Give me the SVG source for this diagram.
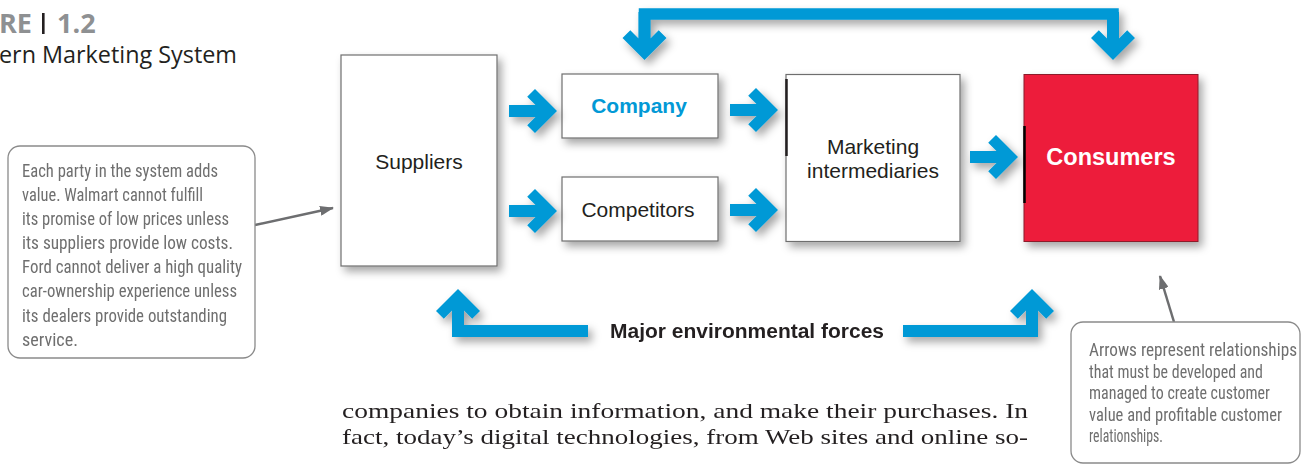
<svg xmlns="http://www.w3.org/2000/svg" width="1301" height="464" viewBox="0 0 1301 464">
<defs>
  <filter id="sh" x="-20%" y="-20%" width="150%" height="150%">
    <feDropShadow dx="4" dy="5" stdDeviation="4" flood-color="#000" flood-opacity="0.35"/>
  </filter>
  <polygon id="arr" points="0,0 -22,-22 -29.8,-14.2 -21.5,-6 -48,-6 -48,6 -21.5,6 -29.8,14.2 -22,22"/>
  <marker id="gh" viewBox="0 0 14 10" refX="13" refY="5" markerWidth="14" markerHeight="10" markerUnits="userSpaceOnUse" orient="auto">
    <path d="M0,0 L14,5 L0,10 z" fill="#6d6e70"/>
  </marker>
</defs>
<style>
  .box{fill:#fff;stroke:#6e6e6e;stroke-width:1.2}
  .lbl{font-family:"Liberation Sans",Arial,sans-serif;font-size:21px;fill:#231f20;text-anchor:middle}
  .blue{fill:#0299d6}
  .bstroke{fill:none;stroke:#0299d6;stroke-linejoin:miter}
  .call{fill:#fff;stroke:#8a8a8a;stroke-width:1.3}
  .ct{font-family:"Liberation Sans Narrow","Roboto Condensed","Liberation Sans",sans-serif;font-size:17.5px;fill:#6f6f6f}
  .body{font-family:"Liberation Serif","Times New Roman",serif;font-size:21.5px;fill:#231f20}
  .garrow{stroke:#6d6e70;stroke-width:2.5;fill:none}
</style>

<g id="title">
  <text x="-1" y="33" font-family="Open Sans, sans-serif" font-weight="bold" font-size="27" fill="#8e9092">RE</text>
  <rect x="42" y="13" width="2.6" height="21" fill="#231f20"/>
  <text x="57" y="33" font-family="Open Sans, sans-serif" font-weight="bold" font-size="27" fill="#8e9092">1.2</text>
  <text x="-1" y="63" font-family="Open Sans, sans-serif" font-size="23.5" fill="#231f20" textLength="238" lengthAdjust="spacingAndGlyphs">ern Marketing System</text>
</g>

<g id="suppliers">
  <rect class="box" x="341" y="55" width="156" height="211" filter="url(#sh)"/>
  <text class="lbl" x="419" y="169">Suppliers</text>
</g>

<g id="company">
  <rect class="box" x="562" y="74" width="156" height="64" filter="url(#sh)"/>
  <text class="lbl" x="639" y="113" font-weight="bold" style="fill:#0299d6">Company</text>
</g>

<g id="competitors">
  <rect class="box" x="562" y="177" width="156" height="64" filter="url(#sh)"/>
  <text class="lbl" x="638" y="217">Competitors</text>
</g>

<g id="intermediaries">
  <rect class="box" x="786" y="74.5" width="174" height="167" filter="url(#sh)"/>
  <line x1="786.5" y1="79" x2="786.5" y2="156" stroke="#231f20" stroke-width="2.5"/>
  <text class="lbl" x="873" y="154">Marketing</text>
  <text class="lbl" x="873" y="178">intermediaries</text>
</g>

<g id="consumers">
  <rect x="1024" y="74.5" width="174" height="167" fill="#ed1a3b" stroke="#8c1a2a" stroke-width="1" filter="url(#sh)"/>
  <line x1="1024.5" y1="126" x2="1024.5" y2="203" stroke="#000" stroke-width="2.5"/>
  <text class="lbl" x="1111" y="165" font-weight="bold" style="fill:#fff;font-size:23.5px">Consumers</text>
</g>

<g id="connectors">
  <g class="blue" filter="url(#sh)">
    <use href="#arr" transform="translate(557,111)"/>
    <use href="#arr" transform="translate(557,211)"/>
    <use href="#arr" transform="translate(778,110)"/>
    <use href="#arr" transform="translate(778,210)"/>
    <use href="#arr" transform="translate(1018,157)"/>
  </g>
  <g filter="url(#sh)">
    <path class="bstroke" stroke-width="11.5" d="M644.5,40 V14 H1113 V40"/>
    <use class="blue" href="#arr" transform="translate(644.5,60) rotate(90)"/>
    <use class="blue" href="#arr" transform="translate(1113,60) rotate(90)"/>
  </g>
  <g filter="url(#sh)">
    <path class="bstroke" stroke-width="12" d="M458,310 V331 H588"/>
    <path class="bstroke" stroke-width="12" d="M903,331 H1032 V310"/>
    <use class="blue" href="#arr" transform="translate(458,289) rotate(-90)"/>
    <use class="blue" href="#arr" transform="translate(1032,289) rotate(-90)"/>
  </g>
  <text x="610" y="338" font-family="Liberation Sans, Arial, sans-serif" font-weight="bold" font-size="20" fill="#231f20" textLength="274" lengthAdjust="spacingAndGlyphs">Major environmental forces</text>
  <line class="garrow" x1="255" y1="225" x2="333" y2="208" marker-end="url(#gh)"/>
  <line class="garrow" x1="1174" y1="322" x2="1160" y2="276" marker-end="url(#gh)"/>
</g>

<g id="callout-left">
  <rect class="call" x="8" y="146" width="247" height="212" rx="12"/>
  <text class="ct" x="22" y="177" textLength="196" lengthAdjust="spacingAndGlyphs">Each party in the system adds</text>
  <text class="ct" x="22" y="201" textLength="181" lengthAdjust="spacingAndGlyphs">value. Walmart cannot fulfill</text>
  <text class="ct" x="22" y="225" textLength="207" lengthAdjust="spacingAndGlyphs">its promise of low prices unless</text>
  <text class="ct" x="22" y="249" textLength="211" lengthAdjust="spacingAndGlyphs">its suppliers provide low costs.</text>
  <text class="ct" x="22" y="273" textLength="220" lengthAdjust="spacingAndGlyphs">Ford cannot deliver a high quality</text>
  <text class="ct" x="22" y="297" textLength="215" lengthAdjust="spacingAndGlyphs">car-ownership experience unless</text>
  <text class="ct" x="22" y="322" textLength="205" lengthAdjust="spacingAndGlyphs">its dealers provide outstanding</text>
  <text class="ct" x="22" y="346" textLength="56" lengthAdjust="spacingAndGlyphs">service.</text>
</g>

<g id="callout-right">
  <rect class="call" x="1071" y="322" width="229" height="141" rx="12"/>
  <text class="ct" x="1089" y="356" textLength="208" lengthAdjust="spacingAndGlyphs">Arrows represent relationships</text>
  <text class="ct" x="1089" y="377.5" textLength="174" lengthAdjust="spacingAndGlyphs">that must be developed and</text>
  <text class="ct" x="1089" y="399" textLength="181" lengthAdjust="spacingAndGlyphs">managed to create customer</text>
  <text class="ct" x="1089" y="420.5" textLength="193" lengthAdjust="spacingAndGlyphs">value and profitable customer</text>
  <text class="ct" x="1089" y="442" textLength="74" lengthAdjust="spacingAndGlyphs">relationships.</text>
</g>

<g id="body-text">
  <text class="body" x="342" y="418" textLength="686" lengthAdjust="spacingAndGlyphs">companies to obtain information, and make their purchases. In</text>
  <text class="body" x="342" y="444" textLength="686" lengthAdjust="spacingAndGlyphs">fact, today’s digital technologies, from Web sites and online so-</text>
</g>
</svg>
